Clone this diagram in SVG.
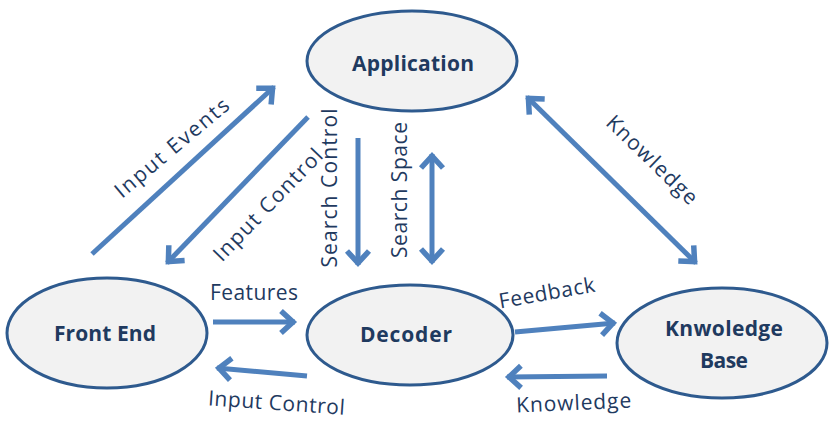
<svg xmlns="http://www.w3.org/2000/svg" width="829" height="429" viewBox="0 0 829 429">
<style>
.node ellipse{fill:#F2F2F2;stroke:#2E5A8E;stroke-width:3}
.node text{font-family:"Open Sans","Liberation Sans",sans-serif;font-weight:bold;font-size:21px;fill:#1F3A5F;text-anchor:middle}
.conn line{stroke:#4F81BD;stroke-width:5;fill:none}
.lbl{font-family:"Open Sans","Liberation Sans",sans-serif;font-size:21px;fill:#1F3A5F;text-anchor:middle}
</style>
<defs>
<marker id="ah" markerUnits="userSpaceOnUse" markerWidth="40" markerHeight="40" viewBox="-20 -20 40 40" refX="2" refY="0" orient="auto-start-reverse">
<path d="M-12,-11 L0,0 L-12,11" fill="none" stroke="#4F81BD" stroke-width="5.5" stroke-linejoin="miter"/>
</marker>
</defs>
<rect width="829" height="429" fill="#FFFFFF"/>
<g id="connectors" class="conn">
<line x1="92" y1="254" x2="274" y2="87" marker-end="url(#ah)"/>
<line x1="308" y1="117" x2="167" y2="263" marker-end="url(#ah)"/>
<line x1="358" y1="138" x2="358" y2="265" marker-end="url(#ah)"/>
<line x1="432" y1="154" x2="432" y2="263" marker-start="url(#ah)" marker-end="url(#ah)"/>
<line x1="527" y1="97" x2="696" y2="263" marker-start="url(#ah)" marker-end="url(#ah)"/>
<line x1="213" y1="322" x2="295" y2="322" marker-end="url(#ah)"/>
<line x1="307" y1="376" x2="217" y2="368" marker-end="url(#ah)"/>
<line x1="515" y1="332" x2="615" y2="323" marker-end="url(#ah)"/>
<line x1="607" y1="376" x2="507" y2="377" marker-end="url(#ah)"/>
</g>
<g id="application" class="node">
<ellipse cx="412" cy="61" rx="105" ry="50"/>
<text x="413" y="71" textLength="122">Application</text>
</g>
<g id="front-end" class="node">
<ellipse cx="107" cy="333" rx="100" ry="55"/>
<text x="105" y="341" textLength="102">Front End</text>
</g>
<g id="decoder" class="node">
<ellipse cx="410" cy="335" rx="103" ry="50"/>
<text x="406" y="342" textLength="92">Decoder</text>
</g>
<g id="knowledge-base" class="node">
<ellipse cx="722" cy="343" rx="105" ry="55"/>
<text x="724" y="336" textLength="118">Knwoledge</text>
<text x="724" y="368" textLength="48">Base</text>
</g>
<g id="labels">
<text class="lbl" transform="translate(172,148) rotate(-40)" y="7" textLength="142">Input Events</text>
<text class="lbl" transform="translate(268,205) rotate(-46)" y="7" textLength="147">Input Control</text>
<text class="lbl" transform="translate(337,188) rotate(-90)" textLength="159">Search Control</text>
<text class="lbl" transform="translate(407,190) rotate(-90)" textLength="136">Search Space</text>
<text class="lbl" transform="translate(652,160) rotate(44)" y="7" textLength="118">Knowledge</text>
<text class="lbl" x="254" y="300" textLength="88">Features</text>
<text class="lbl" transform="translate(276,410) rotate(4)" textLength="137">Input Control</text>
<text class="lbl" transform="translate(548,300) rotate(-10)" textLength="97">Feedback</text>
<text class="lbl" transform="translate(574,410) rotate(-2.5)" textLength="115">Knowledge</text>
</g>
</svg>
